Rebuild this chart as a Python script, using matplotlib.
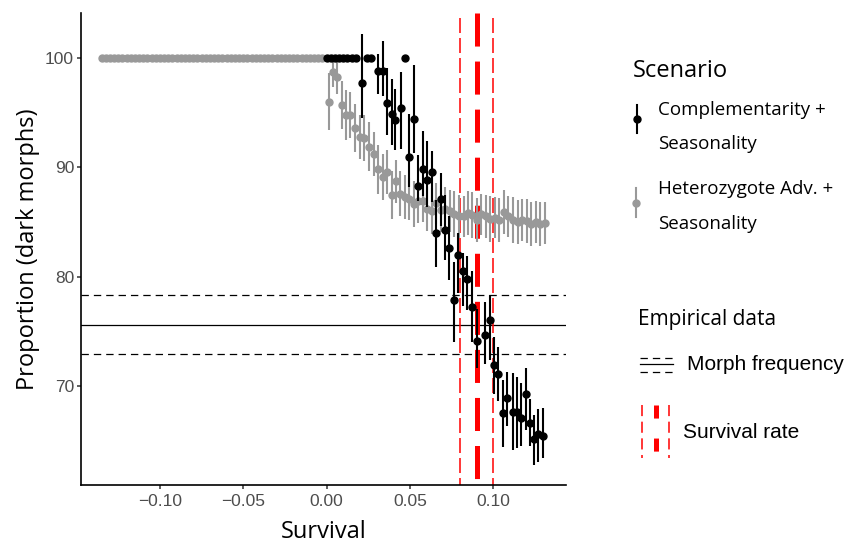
import matplotlib
matplotlib.use("Agg")
import matplotlib.pyplot as plt
from matplotlib.ticker import FuncFormatter
from matplotlib.transforms import blended_transform_factory

plt.rcParams["lines.scale_dashes"] = False

# Complementarity + Seasonality: mean % dark morphs with lower/upper interval
comp_x = [0.0000, 0.0025, 0.0050, 0.0075, 0.0100, 0.0125, 0.0150, 0.0175,
          0.0212, 0.0240, 0.0268, 0.0308, 0.0338, 0.0364, 0.0390, 0.0413,
          0.0444, 0.0470, 0.0496, 0.0522, 0.0550, 0.0576, 0.0604, 0.0632,
          0.0656, 0.0684, 0.0710, 0.0736, 0.0766, 0.0786, 0.0820, 0.0840,
          0.0870, 0.0900, 0.0950, 0.0980, 0.1006, 0.1030, 0.1060, 0.1084,
          0.1120, 0.1140, 0.1164, 0.1194, 0.1220, 0.1244, 0.1270, 0.1300]
comp_mean = [100.0, 100.0, 100.0, 100.0, 100.0, 100.0, 100.0, 100.0,
             97.7, 100.0, 100.0, 98.8, 98.8, 95.9, 94.9, 94.3,
             95.4, 100.0, 90.9, 94.4, 88.3, 89.8, 88.8, 89.6,
             84.0, 87.1, 84.3, 82.6, 77.9, 82.0, 80.5, 79.8,
             77.2, 74.1, 74.7, 76.0, 71.9, 71.1, 67.5, 68.9,
             67.6, 67.6, 67.1, 69.3, 66.6, 65.1, 65.6, 65.4]
comp_low = [100.0, 100.0, 100.0, 100.0, 100.0, 100.0, 100.0, 100.0,
            94.5, 100.0, 100.0, 96.7, 96.5, 93.0, 92.0, 91.6,
            91.7, 100.0, 88.2, 91.3, 86.9, 87.4, 86.4, 86.8,
            80.9, 84.6, 81.5, 79.7, 74.0, 78.5, 77.3, 76.9,
            74.0, 71.6, 72.0, 72.4, 69.3, 68.6, 64.4, 66.3,
            64.1, 64.3, 64.5, 66.0, 64.5, 62.8, 63.0, 63.4]
comp_high = [100.0, 100.0, 100.0, 100.0, 100.0, 100.0, 100.0, 100.0,
             102.2, 100.0, 100.0, 100.4, 101.6, 99.1, 98.1, 97.2,
             98.7, 100.0, 94.9, 99.4, 91.1, 93.3, 92.4, 91.5,
             87.0, 89.5, 87.5, 85.5, 81.3, 84.0, 82.2, 81.9,
             80.5, 77.0, 77.7, 78.3, 74.5, 73.6, 70.5, 71.3,
             71.2, 70.8, 70.3, 71.6, 68.8, 67.3, 67.9, 68.0]

# Heterozygote Adv. + Seasonality: mean % dark morphs with symmetric error
het_x = [-0.1350, -0.1325, -0.1300, -0.1275, -0.1250, -0.1225, -0.1200, -0.1175,
         -0.1150, -0.1125, -0.1100, -0.1075, -0.1050, -0.1025, -0.1000, -0.0975,
         -0.0950, -0.0925, -0.0900, -0.0875, -0.0850, -0.0825, -0.0800, -0.0775,
         -0.0750, -0.0725, -0.0700, -0.0675, -0.0650, -0.0625, -0.0600, -0.0575,
         -0.0550, -0.0525, -0.0500, -0.0475, -0.0450, -0.0425, -0.0400, -0.0375,
         -0.0350, -0.0325, -0.0300, -0.0275, -0.0250, -0.0225, -0.0200, -0.0175,
         -0.0150, -0.0125, -0.0100, -0.0075, -0.0050, -0.0025,
         0.0017, 0.0041, 0.0065, 0.0095, 0.0119, 0.0143, 0.0173, 0.0203,
         0.0227, 0.0257, 0.0284, 0.0310, 0.0336, 0.0364, 0.0390, 0.0416,
         0.0443, 0.0470, 0.0497, 0.0524, 0.0551, 0.0578, 0.0605, 0.0632,
         0.0659, 0.0686, 0.0713, 0.0740, 0.0767, 0.0794, 0.0821, 0.0848,
         0.0875, 0.0902, 0.0929, 0.0956, 0.0983, 0.1010, 0.1037, 0.1064,
         0.1091, 0.1118, 0.1145, 0.1172, 0.1199, 0.1226, 0.1253, 0.1280, 0.1307]
het_mean = [100.0, 100.0, 100.0, 100.0, 100.0, 100.0, 100.0, 100.0,
            100.0, 100.0, 100.0, 100.0, 100.0, 100.0, 100.0, 100.0,
            100.0, 100.0, 100.0, 100.0, 100.0, 100.0, 100.0, 100.0,
            100.0, 100.0, 100.0, 100.0, 100.0, 100.0, 100.0, 100.0,
            100.0, 100.0, 100.0, 100.0, 100.0, 100.0, 100.0, 100.0,
            100.0, 100.0, 100.0, 100.0, 100.0, 100.0, 100.0, 100.0,
            100.0, 100.0, 100.0, 100.0, 100.0, 100.0,
            96.0, 98.75, 98.3, 95.7, 94.8, 94.8, 93.6, 92.8,
            92.7, 91.9, 91.2, 89.8, 89.1, 89.6, 87.5, 88.7,
            87.6, 87.3, 87.1, 86.6, 86.9, 86.9, 86.2, 86.0,
            86.7, 86.1, 86.2, 86.0, 85.7, 85.5, 85.5, 85.8,
            85.6, 85.2, 85.7, 85.5, 85.3, 85.4, 85.2, 85.9,
            85.5, 85.2, 85.0, 85.2, 85.1, 84.8, 85.0, 84.8, 84.9]
het_err = [0.0, 0.0, 0.0, 0.0, 0.0, 0.0, 0.0, 0.0,
           0.0, 0.0, 0.0, 0.0, 0.0, 0.0, 0.0, 0.0,
           0.0, 0.0, 0.0, 0.0, 0.0, 0.0, 0.0, 0.0,
           0.0, 0.0, 0.0, 0.0, 0.0, 0.0, 0.0, 0.0,
           0.0, 0.0, 0.0, 0.0, 0.0, 0.0, 0.0, 0.0,
           0.0, 0.0, 0.0, 0.0, 0.0, 0.0, 0.0, 0.0,
           0.0, 0.0, 0.0, 0.0, 0.0, 0.0,
           2.6, 1.4, 1.6, 2.2, 2.3, 2.1, 2.2, 2.0,
           2.1, 2.2, 2.0, 2.2, 2.1, 2.0, 2.2, 2.0,
           2.1, 2.0, 1.9, 2.1, 2.0, 1.9, 2.0, 2.1,
           1.9, 2.0, 2.0, 1.9, 2.1, 2.0, 1.9, 2.0,
           2.1, 2.0, 1.9, 2.0, 2.1, 1.9, 2.0, 2.0,
           1.9, 2.1, 2.0, 1.9, 2.0, 2.0, 1.9, 2.0, 1.9]

# empirical data
morph_freq = 75.6
morph_freq_ci = [72.9, 78.3]
survival_rate = 0.09
survival_rate_ci = [0.08, 0.10]

x_ticks = [-0.10, -0.05, 0.00, 0.05, 0.10]
y_ticks = [70, 80, 90, 100]

GREY = "#999999"
TEXT_FONT = ["Open Sans", "DejaVu Sans"]
TICK_FONT = ["Liberation Sans", "DejaVu Sans"]

W, H = 848, 544
fig = plt.figure(figsize=(W / 100, H / 100), dpi=100)
ax = fig.add_axes([81 / W, 1 - 485 / H, (566 - 81) / W, (485 - 13.3) / H])

# empirical reference lines sit under the model points
ax.axhline(morph_freq, color="black", lw=0.9, zorder=1)
for v in morph_freq_ci:
    ax.axhline(v, color="black", lw=0.9, linestyle=(0, (5.3, 3.6)), zorder=1)

vtrans = blended_transform_factory(ax.transData, ax.transAxes)
ax.plot([survival_rate, survival_rate], [1, 0], transform=vtrans, color="red",
        lw=3.6, linestyle=(0, (23.8, 10.8)), solid_capstyle="butt", zorder=1)
for v in survival_rate_ci:
    ax.plot([v, v], [1, 0], transform=vtrans, color="red", lw=1.1,
            linestyle=(10.8, (10.8, 3.6)), zorder=1)

het_yerr = het_err
comp_yerr = [[m - lo for m, lo in zip(comp_mean, comp_low)],
             [hi - m for m, hi in zip(comp_mean, comp_high)]]
ax.errorbar(het_x, het_mean, yerr=het_yerr, fmt="o", color=GREY, ms=5,
            elinewidth=1.5, capsize=0, zorder=3)
ax.errorbar(comp_x, comp_mean, yerr=comp_yerr, fmt="o", color="black", ms=5,
            elinewidth=1.5, capsize=0, zorder=4)

ax.set_xlim(-0.1474, 0.1436)
ax.set_ylim(60.93, 104.09)
ax.set_xticks(x_ticks)
ax.set_yticks(y_ticks)
ax.xaxis.set_major_formatter(FuncFormatter(lambda v, _: f"{v:.2f}".replace("-", "\u2212")))
for side in ("top", "right"):
    ax.spines[side].set_visible(False)
for side in ("left", "bottom"):
    ax.spines[side].set_linewidth(1.2)
ax.tick_params(length=3, width=1.1, color="#333333", labelcolor="#4D4D4D",
               labelsize=12.5)
ax.tick_params(axis="x", pad=3.5)
ax.tick_params(axis="y", pad=2)
for lab in ax.get_xticklabels() + ax.get_yticklabels():
    lab.set_family(TICK_FONT)

fig.text(323.5 / W, 1 - 538.5 / H, "Survival", ha="center", va="baseline",
         fontsize=17, family=TEXT_FONT)
fig.text(28 / W, 1 - 249 / H, "Proportion (dark morphs)", ha="center",
         va="center", rotation=90, fontsize=17, family=TEXT_FONT)

# legend panel drawn in pixel coordinates
lg = fig.add_axes([0, 0, 1, 1], facecolor="none")
lg.set_xlim(0, W)
lg.set_ylim(H, 0)
lg.axis("off")

lg.text(632.7, 76.7, "Scenario", fontsize=17, family=TEXT_FONT, va="baseline")
for xk, (y0, y1), col in ((636.7, (105, 133), "black"), (635.7, (188, 217), GREY)):
    lg.plot([xk, xk], [y0, y1], color=col, lw=1.5)
    lg.plot([xk], [(y0 + y1) / 2], "o", color=col, ms=5)
for txt, yb in (("Complementarity +", 115), ("Seasonality", 149.3),
                ("Heterozygote Adv. +", 194), ("Seasonality", 229.3)):
    lg.text(657.7, yb, txt, fontsize=13.5, family=TEXT_FONT, va="baseline")

lg.text(638.3, 325, "Empirical data", fontsize=15, family=TEXT_FONT, va="baseline")
lg.plot([640, 673], [358, 358], color="black", lw=0.9, linestyle=(0, (5.3, 3.6)))
lg.plot([640, 673], [363.5, 363.5], color="black", lw=0.9)
lg.plot([640, 673], [371.7, 371.7], color="black", lw=0.9, linestyle=(0, (5.3, 3.6)))
lg.text(686.7, 370, "Morph frequency", fontsize=15, family=TICK_FONT, va="baseline")

for xk in (641.7, 669):
    lg.plot([xk, xk], [405, 458], color="red", lw=1.1, linestyle=(0, (8, 4)))
lg.plot([656, 656], [405, 458], color="red", lw=3.6,
        linestyle=(0, (9.4, 14.4)), solid_capstyle="butt")
lg.text(683.3, 438, "Survival rate", fontsize=15, family=TICK_FONT, va="baseline")

fig.savefig("out.png", dpi=100)
